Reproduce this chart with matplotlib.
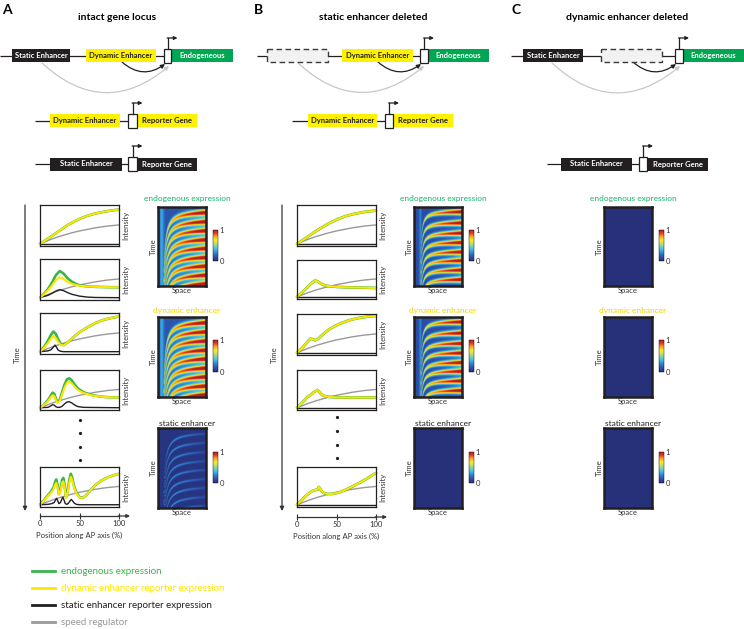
import numpy as np
import matplotlib
matplotlib.use('Agg')
import matplotlib.pyplot as plt
from matplotlib.patches import Rectangle, FancyArrowPatch
from matplotlib.colors import LinearSegmentedColormap
from matplotlib.lines import Line2D

plt.rcParams['font.family'] = ['Lato', 'DejaVu Sans']

# ---------------- data ----------------
# shared x grid (position along AP axis, %) for the smooth curves
x5 = [0, 5, 10, 15, 20, 25, 30, 35, 40, 45, 50, 55, 60, 65, 70, 75, 80, 85, 90, 95, 100]
speed = [0, 0.04, 0.08, 0.12, 0.155, 0.19, 0.22, 0.25, 0.28, 0.305, 0.33, 0.35, 0.37,
         0.39, 0.41, 0.425, 0.44, 0.455, 0.465, 0.475, 0.485]

# panel A, intact locus
a1_yel = [0, 0.06, 0.13, 0.20, 0.27, 0.34, 0.41, 0.48, 0.54, 0.59, 0.64, 0.68, 0.72,
          0.75, 0.78, 0.80, 0.82, 0.84, 0.855, 0.87, 0.88]

a2_x = [0, 5, 10, 15, 20, 25, 30, 35, 40, 45, 50, 60, 70, 80, 90, 100]
a2_grn = [0, 0.10, 0.22, 0.38, 0.58, 0.69, 0.62, 0.50, 0.42, 0.36, 0.32, 0.29, 0.28, 0.275, 0.27, 0.27]
a2_yel = [0, 0.09, 0.19, 0.31, 0.45, 0.53, 0.48, 0.41, 0.36, 0.33, 0.31, 0.29, 0.28, 0.275, 0.27, 0.27]
a2_blk_x = [0, 5, 10, 15, 20, 25, 30, 35, 40, 50, 60, 70, 100]
a2_blk = [0.01, 0.03, 0.06, 0.11, 0.17, 0.21, 0.18, 0.13, 0.09, 0.04, 0.015, 0.005, 0]

a3_x = [0, 5, 10, 14, 17, 20, 23, 26, 30, 35, 40, 45, 50, 60, 70, 80, 90, 100]
a3_grn = [0, 0.12, 0.28, 0.44, 0.52, 0.46, 0.32, 0.21, 0.17, 0.24, 0.33, 0.42, 0.50, 0.63, 0.74, 0.82, 0.87, 0.91]
a3_yel = [0, 0.10, 0.22, 0.34, 0.40, 0.35, 0.25, 0.18, 0.16, 0.24, 0.33, 0.42, 0.50, 0.63, 0.74, 0.82, 0.87, 0.91]
a3_blk_x = [0, 5, 10, 14, 17, 19, 21, 23, 26, 30, 100]
a3_blk = [0, 0.01, 0.02, 0.05, 0.12, 0.17, 0.11, 0.04, 0.01, 0, 0]

a4_x = [0, 5, 10, 13, 16, 18, 20, 22, 25, 28, 31, 34, 37, 40, 44, 48, 55, 65, 75, 85, 100]
a4_grn = [0, 0.08, 0.20, 0.30, 0.40, 0.37, 0.25, 0.15, 0.21, 0.41, 0.61, 0.75, 0.78, 0.73, 0.61, 0.51, 0.41, 0.34, 0.30, 0.28, 0.27]
a4_yel = [0, 0.07, 0.17, 0.26, 0.33, 0.31, 0.21, 0.13, 0.17, 0.35, 0.53, 0.66, 0.69, 0.65, 0.55, 0.47, 0.39, 0.33, 0.30, 0.28, 0.27]
a4_blk_x = [0, 10, 13, 16, 18, 20, 22, 25, 28, 31, 34, 37, 40, 44, 48, 55, 100]
a4_blk = [0, 0.01, 0.04, 0.08, 0.07, 0.03, 0.01, 0.01, 0.04, 0.10, 0.15, 0.16, 0.13, 0.07, 0.03, 0.01, 0]

a5_x = [0, 5, 10, 14, 17, 19, 20.5, 22, 24, 26, 28, 29.5, 31, 33, 35, 37, 39, 41, 43, 46,
        50, 54, 58, 63, 70, 78, 86, 93, 100]
a5_grn = [0, 0.12, 0.25, 0.35, 0.45, 0.60, 0.67, 0.55, 0.28, 0.40, 0.66, 0.71, 0.55, 0.20, 0.35,
          0.65, 0.82, 0.70, 0.50, 0.32, 0.20, 0.18, 0.24, 0.36, 0.52, 0.64, 0.73, 0.78, 0.82]
a5_yel = [0, 0.11, 0.23, 0.32, 0.40, 0.52, 0.58, 0.48, 0.26, 0.36, 0.58, 0.62, 0.48, 0.18, 0.32,
          0.58, 0.74, 0.64, 0.46, 0.30, 0.19, 0.18, 0.24, 0.36, 0.52, 0.64, 0.73, 0.78, 0.82]
a5_blk_x = [0, 10, 15, 18, 19.5, 21, 22.5, 24, 26, 27.5, 29, 30.5, 32, 34, 36, 38, 39.5, 41,
            43, 46, 50, 100]
a5_blk = [0, 0.01, 0.03, 0.06, 0.12, 0.17, 0.10, 0.03, 0.06, 0.14, 0.20, 0.12, 0.03, 0.01,
          0.04, 0.10, 0.14, 0.11, 0.05, 0.01, 0, 0]

# panel B, static enhancer deleted (endogenous == dynamic reporter)
b1_x = x5
b1_yel = [0, 0.06, 0.13, 0.20, 0.27, 0.34, 0.40, 0.46, 0.52, 0.57, 0.62, 0.66, 0.70,
          0.73, 0.76, 0.78, 0.80, 0.82, 0.835, 0.845, 0.855]
b2_x = [0, 5, 10, 15, 20, 23, 26, 30, 35, 40, 45, 50, 60, 70, 80, 90, 100]
b2_yel = [0, 0.09, 0.19, 0.30, 0.40, 0.44, 0.42, 0.36, 0.31, 0.29, 0.28, 0.27, 0.26, 0.255, 0.25, 0.245, 0.24]
b3_x = [0, 5, 10, 14, 17, 20, 23, 27, 31, 36, 42, 50, 57, 65, 72, 79, 86, 93, 100]
b3_yel = [0, 0.09, 0.20, 0.30, 0.36, 0.35, 0.32, 0.36, 0.44, 0.53, 0.62, 0.71, 0.77, 0.83, 0.87, 0.90, 0.92, 0.94, 0.95]
b4_x = [0, 5, 10, 13, 16, 19, 22, 25.5, 28, 31, 35, 40, 45, 50, 60, 70, 80, 90, 100]
b4_yel = [0, 0.10, 0.21, 0.28, 0.32, 0.37, 0.42, 0.47, 0.42, 0.35, 0.31, 0.29, 0.28, 0.275, 0.27, 0.27, 0.27, 0.27, 0.27]
b5_x = [0, 5, 10, 15, 19, 23, 26, 27.5, 29, 31, 34, 38, 42, 46, 50, 55, 60, 65, 70, 75, 80, 85, 90, 95, 100]
b5_yel = [0, 0.10, 0.21, 0.30, 0.36, 0.39, 0.40, 0.47, 0.43, 0.36, 0.31, 0.29, 0.285, 0.29, 0.31,
          0.34, 0.38, 0.43, 0.48, 0.54, 0.59, 0.65, 0.71, 0.78, 0.84]

# kymograph stripe times at the posterior edge (0 = top, 1 = bottom)
bands_A = [0.07, 0.185, 0.30, 0.415, 0.525, 0.64, 0.75, 0.865, 0.975]
bands_B = [0.06, 0.20, 0.33, 0.45, 0.57, 0.68, 0.80, 0.92]

ap_ticks = [0, 50, 100]
legend_labels = ['endogenous expression', 'dynamic enhancer reporter expression',
                 'static enhancer reporter expression', 'speed regulator']

# ---------------- style ----------------
W, H = 744, 629
GREEN_BOX = '#00A651'
GREEN = '#3AB54A'
GREEN_TXT = '#1DB36B'
YELLOW = '#FFE600'
YELLOW_BOX = '#FFF200'
DARK = '#231F20'
GRAY = '#999999'

cmap = LinearSegmentedColormap.from_list('kymo', [
    (0.00, '#27317A'), (0.12, '#2B4FA8'), (0.25, '#2F7FD0'), (0.38, '#3FC0E8'),
    (0.50, '#8CD6A0'), (0.60, '#D7E34A'), (0.68, '#FFEB14'), (0.80, '#F9A11B'),
    (0.90, '#EE3524'), (1.00, '#B21F24')])

fig = plt.figure(figsize=(W / 100, H / 100), dpi=100)


def ax_px(x0, y0, x1, y1):
    return fig.add_axes([x0 / W, 1 - y1 / H, (x1 - x0) / W, (y1 - y0) / H])


ov = fig.add_axes([0, 0, 1, 1])
ov.set_xlim(0, W)
ov.set_ylim(H, 0)
ov.axis('off')


# ---------------- gene diagrams ----------------
def gene_line(x0, x1, yc):
    ov.plot([x0, x1], [yc, yc], color=DARK, lw=0.9, zorder=1, solid_capstyle='butt')


def element(x0, x1, yc, fc, label='', tc='white', dashed=False):
    if dashed:
        r = Rectangle((x0, yc - 6.5), x1 - x0, 13, fc='#F2F2F2', ec='#3A3A3A', lw=1.0,
                      ls=(0, (4, 2.5)), zorder=2)
    else:
        r = Rectangle((x0, yc - 6.5), x1 - x0, 13, fc=fc, ec='none', zorder=2)
    ov.add_patch(r)
    if label:
        ov.text((x0 + x1) / 2, yc, label, color=tc, fontsize=5.5, fontweight='bold',
                ha='center', va='center', zorder=3)


def promoter(x0, x1, yc, top):
    ov.add_patch(Rectangle((x0, yc - 7), x1 - x0, 14, fc='white', ec=DARK, lw=0.9, zorder=3))
    xm = (x0 + x1) / 2
    ov.plot([xm, xm], [yc - 7, top], color=DARK, lw=0.9, zorder=3)
    ov.annotate('', xy=(xm + 10, top), xytext=(xm - 0.4, top),
                arrowprops=dict(arrowstyle='-|>', color=DARK, lw=0.9, mutation_scale=5,
                                shrinkA=0, shrinkB=0))


def loop(x0, y0, x1, y1, rad, color):
    ov.add_patch(FancyArrowPatch((x0, y0), (x1, y1), connectionstyle='arc3,rad=%s' % rad,
                                 arrowstyle='-|>', mutation_scale=6, color=color, lw=0.9,
                                 shrinkA=0, shrinkB=0, zorder=1))


# A
gene_line(0, 165, 55.5)
element(12, 70, 55.5, DARK, 'Static Enhancer')
element(86, 156, 55.5, YELLOW_BOX, 'Dynamic Enhancer', DARK)
promoter(164, 171, 55.5, 38)
element(171, 233, 55.5, GREEN_BOX, 'Endogeneous')
loop(122, 62, 165, 64, 0.4, DARK)
loop(42, 63, 169, 66, 0.44, '#C8C8C8')

gene_line(35, 130, 120.5)
element(50, 120, 120.5, YELLOW_BOX, 'Dynamic Enhancer', DARK)
promoter(128, 137, 120.5, 103)
element(137, 197, 120.5, YELLOW_BOX, 'Reporter Gene', DARK)

gene_line(35, 130, 164)
element(50, 122, 164, DARK, 'Static Enhancer')
promoter(128, 137, 164, 146)
element(137, 197, 164, DARK, 'Reporter Gene')

# B
gene_line(257, 421, 55.5)
element(267, 328, 55.5, None, dashed=True)
element(342, 413, 55.5, YELLOW_BOX, 'Dynamic Enhancer', DARK)
promoter(420, 428, 55.5, 38)
element(428, 489, 55.5, GREEN_BOX, 'Endogeneous')
loop(378, 62, 421, 64, 0.4, DARK)
loop(298, 63, 424, 66, 0.44, '#C8C8C8')

gene_line(292, 386, 120.5)
element(308, 377, 120.5, YELLOW_BOX, 'Dynamic Enhancer', DARK)
promoter(385, 393, 120.5, 103)
element(393, 453, 120.5, YELLOW_BOX, 'Reporter Gene', DARK)

# C
gene_line(511, 676, 55.5)
element(523, 583, 55.5, DARK, 'Static Enhancer')
element(601, 662, 55.5, None, dashed=True)
promoter(675, 683, 55.5, 38)
element(683, 744, 55.5, GREEN_BOX, 'Endogeneous')
loop(633, 62, 676, 64, 0.4, DARK)
loop(552, 63, 680, 66, 0.44, '#C8C8C8')

gene_line(547, 640, 164)
element(561, 632, 164, DARK, 'Static Enhancer')
promoter(639, 647, 164, 146)
element(647, 708, 164, DARK, 'Reporter Gene')

# panel letters and titles
for lx, letter in [(2, 'A'), (254, 'B'), (511, 'C')]:
    ov.text(lx, 10, letter, fontsize=10, fontweight='bold', ha='left', va='center')
for cx, title in [(117, 'intact gene locus'), (373, 'static enhancer deleted'),
                  (627, 'dynamic enhancer deleted')]:
    ov.text(cx, 18, title, fontsize=7.5, fontweight='bold', ha='center', va='center')


# ---------------- line plots ----------------
def line_panel(x0, x1, y0, y1, curves):
    ax = ax_px(x0, y0, x1, y1)
    for xs, ys, col, lw in curves:
        ax.plot(xs, ys, color=col, lw=lw, solid_capstyle='round', clip_on=False)
    ax.set_xlim(0, 100)
    ax.set_ylim(-0.06, 1.0)
    ax.set_xticks([])
    ax.set_yticks([])
    for sp in ax.spines.values():
        sp.set_linewidth(0.9)
        sp.set_color(DARK)
    ax.yaxis.set_label_position('right')
    ax.set_ylabel('Intensity', fontsize=5.5, labelpad=2, color='#333333')
    return ax


zero = [0, 0]
zx = [0, 100]


def a_curves(gx, g, y, bx, b):
    return [(x5, speed, GRAY, 1.0), (bx, b, DARK, 1.0), (gx, g, GREEN, 1.9), (gx, y, YELLOW, 1.5)]


def b_curves(x, y):
    return [(x5, speed, GRAY, 1.0), (zx, zero, DARK, 1.0), (x, y, GREEN, 2.0), (x, y, YELLOW, 1.5)]


rowsA = [(205, 246), (259, 300), (313, 354), (370, 410), (467, 507)]
curvesA = [a_curves(x5, a1_yel, a1_yel, zx, zero),
           a_curves(a2_x, a2_grn, a2_yel, a2_blk_x, a2_blk),
           a_curves(a3_x, a3_grn, a3_yel, a3_blk_x, a3_blk),
           a_curves(a4_x, a4_grn, a4_yel, a4_blk_x, a4_blk),
           a_curves(a5_x, a5_grn, a5_yel, a5_blk_x, a5_blk)]
for (y0, y1), cv in zip(rowsA, curvesA):
    line_panel(40, 119, y0, y1, cv)

rowsB = [(205, 246), (260, 299), (314, 355), (370, 410), (467, 507)]
curvesB = [b_curves(b1_x, b1_yel), b_curves(b2_x, b2_yel), b_curves(b3_x, b3_yel),
           b_curves(b4_x, b4_yel), b_curves(b5_x, b5_yel)]
for (y0, y1), cv in zip(rowsB, curvesB):
    line_panel(297, 376, y0, y1, cv)

# time arrows, dots and AP axes
for tx, dx, dys, px0, px1, ay in [(25, 80, [420, 433, 447, 460], 40, 119, 516),
                                  (282, 337, [417, 431, 445, 458], 297, 376, 517)]:
    ov.annotate('', xy=(tx, 511), xytext=(tx, 205),
                arrowprops=dict(arrowstyle='-|>', color='#333333', lw=0.9, mutation_scale=6,
                                shrinkA=0, shrinkB=0))
    ov.text(tx - 8, 355, 'Time', rotation=90, fontsize=5.5, ha='center', va='center', color='#333333')
    ov.plot([dx] * len(dys), dys, 'o', ms=1.3, color=DARK)
    apx = ax_px(px0, ay - 1, px1, ay)
    apx.set_xlim(0, 100)
    apx.set_yticks([])
    for side in ['top', 'left', 'right']:
        apx.spines[side].set_visible(False)
    apx.spines['bottom'].set_linewidth(0.9)
    apx.spines['bottom'].set_color('#333333')
    apx.set_xticks(ap_ticks)
    apx.tick_params(axis='x', direction='inout', length=4, width=0.8, labelsize=5.5, pad=1,
                    colors='#333333')
    apx.annotate('', xy=(1.14, 0), xytext=(0.99, 0), xycoords='axes fraction',
                 arrowprops=dict(arrowstyle='-|>', color='#333333', lw=0.9, mutation_scale=5,
                                 shrinkA=0, shrinkB=0))
    apx.set_xlabel('Position along AP axis (%)', fontsize=5.5, labelpad=3.5, color='#333333')


# ---------------- kymographs ----------------
ns, nt = 160, 240
S, T = np.meshgrid(np.linspace(0, 1, ns), np.linspace(0, 1, nt))


def kymograph(bands, s0, curv, sig, amp, base):
    D = curv / np.clip(S - s0, 1e-3, None) - curv / (1 - s0)
    width = sig[0] + sig[1] * S
    a = amp[0] + amp[1] * S
    img = base.copy()
    for tk in bands:
        img += a * np.exp(-0.5 * ((T - tk - D) / width) ** 2) * (S > s0)
    return np.clip(img, 0, 1)


baseA = 0.14 + 0.20 * np.exp(-((S - 0.075) / 0.045) ** 2) - 0.06 * np.exp(-(S / 0.02) ** 2)
kymo_A = kymograph(bands_A, 0.08, 0.03, (0.021, 0.008), (0.5, 0.5), baseA)
kymo_A_static = kymograph(bands_A, 0.08, 0.03, (0.007, 0.004), (0.42, -0.34),
                          0.02 + 0 * S)
baseB = 0.11 + 0.16 * np.exp(-((S - 0.13) / 0.025) ** 2)
kymo_B = kymograph(bands_B, 0.12, 0.012, (0.012, 0.016), (0.48, 0.52), baseB)
kymo_off = np.zeros_like(S)

heat_rows = [(207, 286), (317, 397), (428, 508)]
cbar_rows = [(230, 261), (340, 372), (452, 483)]
title_y = [198, 310, 423]
titles = [('endogenous expression', GREEN_TXT), ('dynamic enhancer', '#F2D500'),
          ('static enhancer', DARK)]
columns = [(158, 206, 213, [kymo_A, kymo_A, kymo_A_static]),
           (414, 462, 469, [kymo_B, kymo_B, kymo_off]),
           (604, 652, 659, [kymo_off, kymo_off, kymo_off])]

for hx0, hx1, cx0, imgs in columns:
    for (y0, y1), (c0, c1), ty, (tt, tc), img in zip(heat_rows, cbar_rows, title_y, titles, imgs):
        ax = ax_px(hx0, y0, hx1, y1)
        im = ax.imshow(img, cmap=cmap, vmin=0, vmax=1, aspect='auto', interpolation='bilinear')
        ax.set_xticks([])
        ax.set_yticks([])
        for sp in ax.spines.values():
            sp.set_linewidth(1.8)
            sp.set_color(DARK)
        ax.set_xlabel('Space', fontsize=5.5, labelpad=1, color='#333333')
        ax.set_ylabel('Time', fontsize=5.5, labelpad=1, color='#333333')
        ov.text((hx0 + cx0 + 3) / 2, ty, tt, color=tc, fontsize=6, ha='center', va='center')
        cax = ax_px(cx0, c0, cx0 + 5, c1)
        cb = fig.colorbar(im, cax=cax, ticks=[0, 1])
        cb.ax.tick_params(length=0, labelsize=5.5, pad=1, colors='#333333')
        cb.outline.set_linewidth(0.3)

# ---------------- legend ----------------
handles = [Line2D([], [], color=c, lw=2) for c in [GREEN, YELLOW, DARK, GRAY]]
fig.legend(handles, legend_labels, loc='upper left', bbox_to_anchor=(32 / W, 1 - 567 / H),
           frameon=False, fontsize=7, handlelength=2.4, handletextpad=0.6,
           labelspacing=0.82, borderpad=0, borderaxespad=0, labelcolor='linecolor')

fig.savefig('out.png', dpi=100)
